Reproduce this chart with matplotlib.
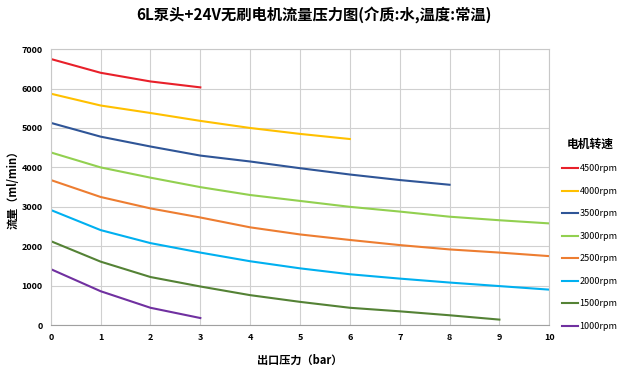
import matplotlib.pyplot as plt

plt.rcParams['font.family'] = ['Noto Sans CJK SC', 'DejaVu Sans']

pressure = [0, 1, 2, 3, 4, 5, 6, 7, 8, 9, 10]

flow_4500 = [6750, 6400, 6180, 6030]
flow_4000 = [5870, 5570, 5380, 5180, 5000, 4850, 4720]
flow_3500 = [5130, 4780, 4530, 4300, 4150, 3980, 3820, 3680, 3560]
flow_3000 = [4380, 4000, 3740, 3500, 3300, 3150, 3000, 2880, 2750, 2660, 2580]
flow_2500 = [3680, 3250, 2960, 2730, 2480, 2300, 2160, 2030, 1920, 1840, 1750]
flow_2000 = [2920, 2410, 2080, 1840, 1620, 1440, 1290, 1180, 1080, 990, 900]
flow_1500 = [2130, 1610, 1220, 980, 760, 590, 440, 350, 250, 140]
flow_1000 = [1420, 860, 440, 180]

labels = ['4500rpm', '4000rpm', '3500rpm', '3000rpm', '2500rpm', '2000rpm', '1500rpm', '1000rpm']
series = [flow_4500, flow_4000, flow_3500, flow_3000, flow_2500, flow_2000, flow_1500, flow_1000]
colors = ['#E8202A', '#FFC000', '#2F5597', '#92D050', '#ED7D31', '#00B0F0', '#548235', '#7030A0']

fig = plt.figure(figsize=(6.27, 3.75), dpi=100)
ax = fig.add_axes([0.081, 0.133, 0.795, 0.736])

for vals, lab, col in zip(series, labels, colors):
    ax.plot(pressure[:len(vals)], vals, color=col, lw=1.5, label=lab)

ax.set_xlim(0, 10)
ax.set_ylim(0, 7000)
ax.set_xticks(range(0, 11))
ax.set_yticks(range(0, 7001, 1000))
ax.grid(True, color='#d0d0d0', lw=0.8)
ax.tick_params(length=0, labelsize=6.5, pad=6)
for t in ax.get_xticklabels() + ax.get_yticklabels():
    t.set_fontweight('bold')
for s in ax.spines.values():
    s.set_color('#c8c8c8')
ax.spines['bottom'].set_color('#a0a0a0')

ax.set_xlabel('出口压力（bar）', fontsize=8, fontweight='bold', labelpad=8)
ax.set_ylabel('流量（ml/min）', fontsize=8, fontweight='bold')
ax.yaxis.set_label_coords(-0.062, 0.5)
fig.suptitle('6L泵头+24V无刷电机流量压力图(介质:水,温度:常温)', fontsize=11,
             fontweight='bold', y=0.985)

leg = fig.legend(loc='center left', bbox_to_anchor=(0.89, 0.375), frameon=False,
                 title='电机转速', fontsize=6.5, handlelength=1.8, labelspacing=1.5,
                 handletextpad=0.2, borderaxespad=0)
leg.get_title().set_fontweight('bold')
leg.get_title().set_fontsize(8.5)

fig.savefig('out.png', dpi=100)
